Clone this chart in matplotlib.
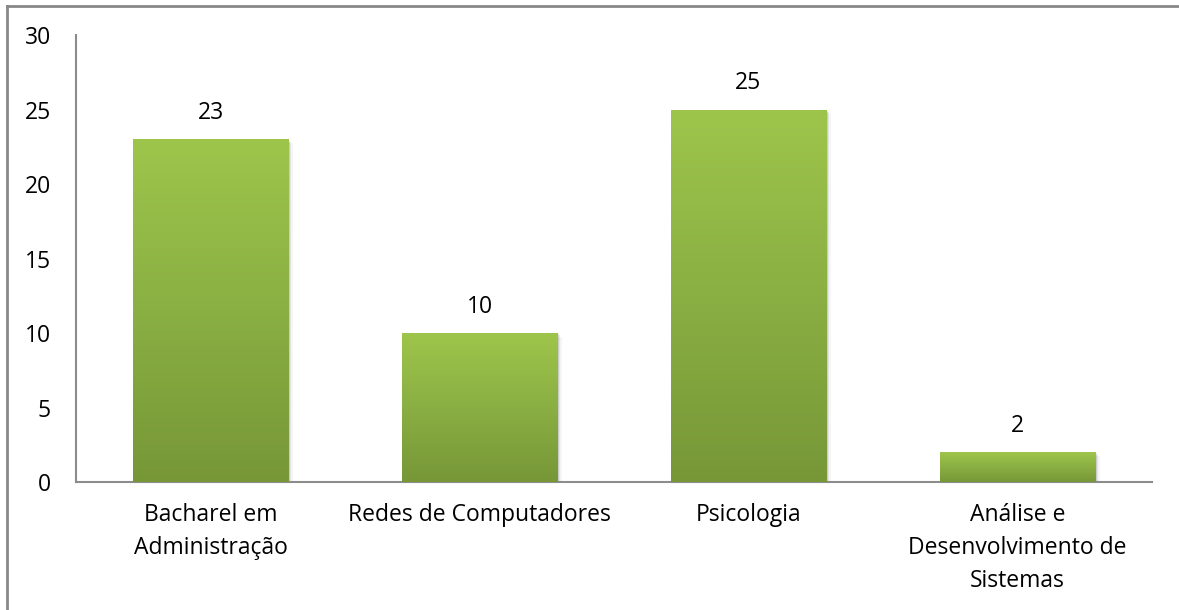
import matplotlib
matplotlib.use("Agg")
import matplotlib.pyplot as plt
import numpy as np
from matplotlib.colors import LinearSegmentedColormap
from matplotlib.patches import Rectangle
from matplotlib.lines import Line2D

categories = ["Bacharel em\nAdministração", "Redes de Computadores", "Psicologia",
              "Análise e\nDesenvolvimento de\nSistemas"]
values = [23, 10, 25, 2]
y_ticks = [0, 5, 10, 15, 20, 25, 30]

plt.rcParams['font.family'] = ['Open Sans', 'DejaVu Sans']
FS = 16.5

fig = plt.figure(figsize=(11.79, 6.10), dpi=100)
ax = fig.add_axes([0.0645, 0.2098, 0.9125, 0.7328])

x = np.arange(len(categories))
bars = ax.bar(x, values, width=0.578, color="none", edgecolor="none", zorder=3)

cmap = LinearSegmentedColormap.from_list("g", ["#779737", "#8aaf43", "#9ec54b"])
grad = np.linspace(0, 1, 256).reshape(-1, 1)
for b, v in zip(bars, values):
    x0, y0 = b.get_x(), b.get_y()
    w, h = b.get_width(), b.get_height()
    # soft shadow
    for i, a in enumerate([0.10, 0.07, 0.04]):
        off = 0.006 * (i + 1)
        sh = Rectangle((x0 + off, y0 - 0.08 * (i + 1)), w, h, facecolor="black",
                       alpha=a, edgecolor="none", zorder=2)
        ax.add_patch(sh)
    im = ax.imshow(grad, extent=[x0, x0 + w, y0, y0 + h], origin="lower",
                   cmap=cmap, aspect="auto", zorder=3, interpolation="bicubic")
    im.set_clip_path(b)
    ax.text(x0 + w / 2, y0 + h + 0.95, f"{v}",
            ha="center", va="bottom", fontsize=FS, color="black")

ax.set_xlim(-0.5, len(categories) - 0.5)
ax.set_ylim(0, 30)
ax.set_yticks(y_ticks)
ax.set_yticklabels([str(t) for t in y_ticks], fontsize=FS)
ax.set_xticks(x)
ax.set_xticklabels(categories, fontsize=FS, linespacing=1.5, va="top")
ax.tick_params(axis="both", length=0, colors="black")
ax.tick_params(axis="y", pad=18)
ax.tick_params(axis="x", pad=15)
for s in ["top", "right"]:
    ax.spines[s].set_visible(False)
for s in ["left", "bottom"]:
    ax.spines[s].set_color("#8c8c8c")
    ax.spines[s].set_linewidth(1.5)
ax.set_facecolor("white")

# figure border (top & left visible)
fig.add_artist(Line2D([7 / 1179, 7 / 1179], [0, 1 - 6 / 610], transform=fig.transFigure,
                      color="#888888", lw=2))
fig.add_artist(Line2D([7 / 1179, 1], [1 - 6 / 610, 1 - 6 / 610], transform=fig.transFigure,
                      color="#888888", lw=2))

fig.savefig("out.png", dpi=100)
